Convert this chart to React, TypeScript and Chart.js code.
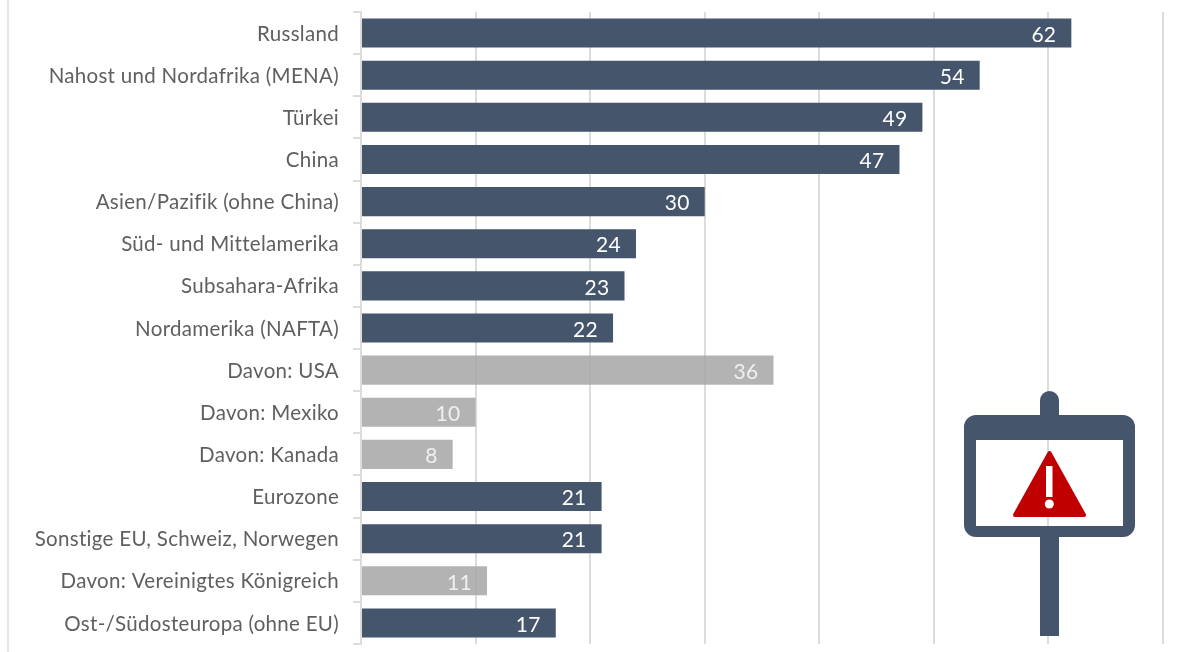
import React, { useEffect, useRef } from "react";
import { Chart, registerables } from "chart.js";

Chart.register(...registerables);

const categories = [
  "Russland",
  "Nahost und Nordafrika (MENA)",
  "Türkei",
  "China",
  "Asien/Pazifik (ohne China)",
  "Süd- und Mittelamerika",
  "Subsahara-Afrika",
  "Nordamerika (NAFTA)",
  "Davon: USA",
  "Davon: Mexiko",
  "Davon: Kanada",
  "Eurozone",
  "Sonstige EU, Schweiz, Norwegen",
  "Davon: Vereinigtes Königreich",
  "Ost-/Südosteuropa (ohne EU)",
];
const values = [62, 54, 49, 47, 30, 24, 23, 22, 36, 10, 8, 21, 21, 11, 17];
const subItems = [false, false, false, false, false, false, false, false, true, true, true, false, false, true, false];

const DARK = "#45556c";
const GREY = "rgba(166,166,166,0.85)";
const GRID = "#dcdcdc";
const FONT = "Lato, 'Noto Sans', sans-serif";

const textSetup = {
  id: "textSetup",
  beforeDraw(chart: any) {
    chart.ctx.letterSpacing = "0.3px";
  },
};

const barLabels = {
  id: "barLabels",
  afterDatasetsDraw(chart: any) {
    const { ctx } = chart;
    const meta = chart.getDatasetMeta(0);
    ctx.save();
    ctx.font = `400 21px ${FONT}`;
    ctx.textAlign = "right";
    ctx.textBaseline = "middle";
    meta.data.forEach((bar: any, i: number) => {
      ctx.fillStyle = subItems[i] ? "#f0f0f0" : "#ffffff";
      ctx.fillText(String(values[i]), bar.x - 15, bar.y + 2);
    });
    ctx.restore();
  },
};

export default function App() {
  const ref = useRef<HTMLCanvasElement>(null);
  useEffect(() => {
    document.body.style.margin = "0";
    const chart = new Chart(ref.current!, {
      type: "bar",
      data: {
        labels: categories,
        datasets: [
          {
            data: values,
            backgroundColor: subItems.map((s) => (s ? GREY : DARK)),
            barPercentage: 0.69,
            categoryPercentage: 1,
          },
        ],
      },
      options: {
        indexAxis: "y",
        animation: false,
        responsive: false,
        layout: { padding: { top: 12, bottom: 8, right: 40, left: 0 } },
        plugins: { legend: { display: false }, tooltip: { enabled: false } },
        scales: {
          x: {
            min: 0,
            max: 70,
            afterFit(scale: any) {
              scale.height = 0;
              scale.paddingLeft = 0;
              scale.paddingRight = 0;
            },
            ticks: { display: false, stepSize: 10 },
            grid: { color: GRID, lineWidth: 2, drawTicks: false },
            border: { display: false },
          },
          y: {
            afterFit(scale: any) {
              scale.width = 361;
              scale.paddingTop = 0;
              scale.paddingBottom = 0;
            },
            ticks: {
              color: "#5f5f5f",
              font: { family: FONT, size: 20.5, weight: "400" },
              padding: 14,
              labelOffset: 1,
              autoSkip: false,
            },
            grid: {
              offset: true,
              drawOnChartArea: false,
              color: GRID,
              lineWidth: 2,
              tickLength: 8,
            },
            border: { display: true, color: GRID, width: 2 },
          },
        },
      },
      plugins: [textSetup, barLabels],
    } as any);
    return () => chart.destroy();
  }, []);

  return (
    <div style={{ position: "relative", width: 1203, height: 652, overflow: "hidden", background: "#fff" }}>
      <canvas ref={ref} width={1203} height={652} style={{ display: "block", width: 1203, height: 652 }} />
      <div style={{ position: "absolute", left: 7, top: 0, width: 2, height: 652, background: "#e4e4e4" }} />
      <svg width={1203} height={652} style={{ position: "absolute", left: 0, top: 0 }}>
        <path
          fill={DARK}
          fillRule="evenodd"
          d="M1040 415V400.500A9.500 9.500 0 0 1 1059 400.500V415H1123A12 12 0 0 1 1135 427V525A12 12 0 0 1 1123 537H1059V636H1040V537H976A12 12 0 0 1 964 525V427A12 12 0 0 1 976 415ZM976 440V526H1123V440Z"
        />
        <path
          fill="#c00000"
          stroke="#c00000"
          strokeWidth={4}
          strokeLinejoin="round"
          d="M1049.500 453L1084 515H1015Z"
        />
        <rect x={1046} y={466} width={6.500} height={31} fill="#fff" />
        <circle cx={1049.300} cy={504} r={4.500} fill="#fff" />
      </svg>
    </div>
  );
}
